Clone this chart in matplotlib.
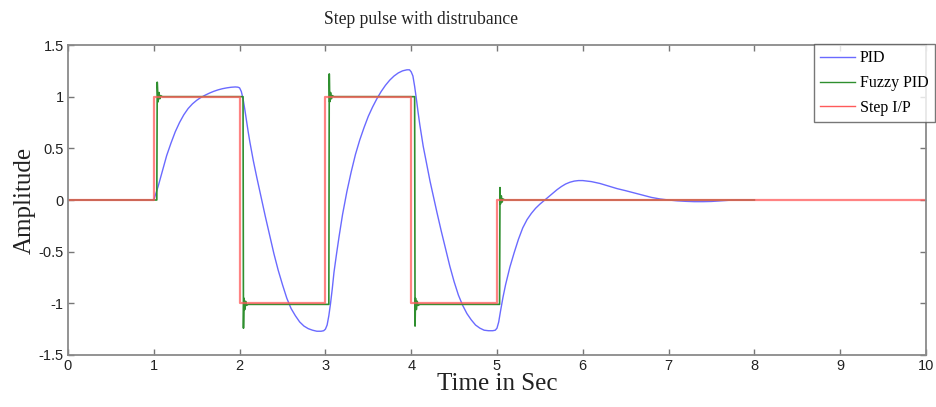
import matplotlib
matplotlib.use("Agg")
import matplotlib.pyplot as plt

# ---- data ----
step_t = [0, 1, 1, 2, 2, 3, 3, 4, 4, 5, 5, 10]
step_y = [0, 0, 1, 1, -1, -1, 1, 1, -1, -1, 0, 0]

pid_t = [0, 1.00, 1.05, 1.10, 1.15, 1.20, 1.25, 1.30, 1.35, 1.40, 1.45, 1.50, 1.55, 1.60,
         1.65, 1.70, 1.75, 1.80, 1.85, 1.90, 1.95, 1.98, 2.00, 2.02, 2.04, 2.06, 2.08, 2.10,
         2.12, 2.16, 2.20, 2.25, 2.30, 2.35, 2.40, 2.45, 2.50, 2.55, 2.60, 2.65, 2.70, 2.75,
         2.80, 2.85, 2.90, 2.95, 2.98, 3.00, 3.02, 3.04, 3.06, 3.08, 3.10, 3.13, 3.16, 3.20,
         3.25, 3.30, 3.35, 3.40, 3.45, 3.50, 3.55, 3.60, 3.65, 3.70, 3.75, 3.80, 3.85, 3.90,
         3.95, 3.98, 4.00, 4.02, 4.04, 4.06, 4.08, 4.10, 4.14, 4.18, 4.22, 4.26, 4.30, 4.35,
         4.40, 4.45, 4.50, 4.55, 4.60, 4.65, 4.70, 4.75, 4.80, 4.85, 4.90, 4.95, 4.98, 5.00,
         5.02, 5.04, 5.07, 5.10, 5.15, 5.20, 5.25, 5.30, 5.35, 5.40, 5.45, 5.50, 5.55, 5.60,
         5.65, 5.70, 5.75, 5.80, 5.85, 5.90, 5.95, 6.00, 6.10, 6.20, 6.30, 6.40, 6.50, 6.60,
         6.70, 6.80, 6.90, 7.00, 7.10, 7.20, 7.30, 7.40, 7.50, 7.60, 7.70, 7.80, 8.00]
pid_y = [0, 0.0, 0.13, 0.28, 0.43, 0.55, 0.66, 0.75, 0.825, 0.885, 0.93, 0.965, 0.993, 1.015,
         1.035, 1.052, 1.066, 1.077, 1.085, 1.091, 1.094, 1.092, 1.085, 1.05, 0.98, 0.88, 0.77, 0.66,
         0.56, 0.38, 0.22, 0.03, -0.16, -0.34, -0.52, -0.68, -0.82, -0.95, -1.05, -1.12, -1.18, -1.22,
         -1.245, -1.26, -1.27, -1.27, -1.265, -1.25, -1.21, -1.12, -1.00, -0.86, -0.70, -0.52, -0.35, -0.14,
         0.08, 0.27, 0.44, 0.58, 0.70, 0.81, 0.90, 0.98, 1.05, 1.11, 1.16, 1.20, 1.23, 1.25,
         1.26, 1.26, 1.24, 1.20, 1.10, 0.98, 0.85, 0.73, 0.52, 0.35, 0.18, 0.03, -0.12, -0.30,
         -0.47, -0.64, -0.79, -0.92, -1.02, -1.10, -1.16, -1.21, -1.24, -1.26, -1.265, -1.265, -1.26, -1.24,
         -1.18, -1.08, -0.94, -0.82, -0.65, -0.51, -0.38, -0.27, -0.19, -0.13, -0.08, -0.04, -0.005, 0.03,
         0.065, 0.10, 0.13, 0.155, 0.172, 0.183, 0.188, 0.188, 0.178, 0.16, 0.135, 0.11, 0.09, 0.068,
         0.045, 0.025, 0.01, 0.0, -0.008, -0.013, -0.016, -0.016, -0.014, -0.008, -0.003, 0.0, 0.0]

fz_t = [0, 1.035, 1.04, 1.05, 1.06, 1.07, 1.08, 1.10, 2.04, 2.045, 2.05, 2.06, 2.07, 2.08,
        2.10, 3.04, 3.045, 3.05, 3.06, 3.07, 3.08, 3.10, 4.04, 4.045, 4.05, 4.06, 4.07, 4.08,
        4.10, 5.03, 5.035, 5.04, 5.05, 5.06, 5.07, 5.09, 8.0]
fz_y = [0, 0, 1.14, 0.95, 1.04, 0.98, 1.01, 1.0, 1.0, -1.24, -0.95, -1.06, -0.98, -1.02,
        -1.01, -1.01, 1.22, 0.95, 1.04, 0.98, 1.01, 1.0, 1.0, -1.22, -0.95, -1.06, -0.98, -1.02,
        -1.01, -1.01, 0.12, -0.04, 0.04, -0.02, 0.01, 0.0, 0.0]

xticks = list(range(0, 11))
yticks = [-1.5, -1, -0.5, 0, 0.5, 1, 1.5]
ytick_labels = ["-1.5", "-1", "-0.5", "0", "0.5", "1", "1.5"]

fig = plt.figure(figsize=(9.36, 4.07), dpi=100)
ax = fig.add_axes([68/936, 1-355/407, (926-68)/936, (355-45)/407])

ax.plot(pid_t, pid_y, color="#6a6aff", lw=1.0, label="PID")
ax.plot(fz_t, fz_y, color="#2f8f2f", lw=1.2, label="Fuzzy PID")
ax.plot(step_t, step_y, color="#ff5a5a", lw=1.6, alpha=0.75, label="Step I/P")

ax.set_xlim(0, 10)
ax.set_ylim(-1.5, 1.5)
ax.set_xticks(xticks)
ax.set_yticks(yticks)
ax.set_yticklabels(ytick_labels)
ax.tick_params(direction="in", length=4, width=1, color="#777777", labelsize=10.5,
               labelcolor="#222222", top=True, right=True, pad=3)
for lab in ax.get_xticklabels() + ax.get_yticklabels():
    lab.set_family("Liberation Sans")
for s in ax.spines.values():
    s.set_color("#8a8a8a")
    s.set_linewidth(1.3)

fig.text(421/936, 1-20/407, "Step pulse with distrubance", family="Liberation Serif",
         fontsize=12.7, ha="center", va="center", color="#222222")
ax.set_xlabel("Time in Sec", family="Liberation Serif", fontsize=18, labelpad=0, color="#222222")
ax.set_ylabel("Amplitude", family="Liberation Serif", fontsize=18, labelpad=2, color="#222222")

leg = fig.legend(loc="upper right", bbox_to_anchor=(935/936, 1-44/407),
                 prop={"family": "Liberation Serif", "size": 11.5}, frameon=True, fancybox=False,
                 handlelength=2.2, handletextpad=0.3, borderpad=0.4, labelspacing=0.55,
                 borderaxespad=0)
leg.get_frame().set_edgecolor("#555555")
leg.get_frame().set_linewidth(1.0)
for h in leg.get_lines():
    h.set_linewidth(1.0)
    h.set_alpha(1.0)

fig.savefig("out.png", dpi=100)
